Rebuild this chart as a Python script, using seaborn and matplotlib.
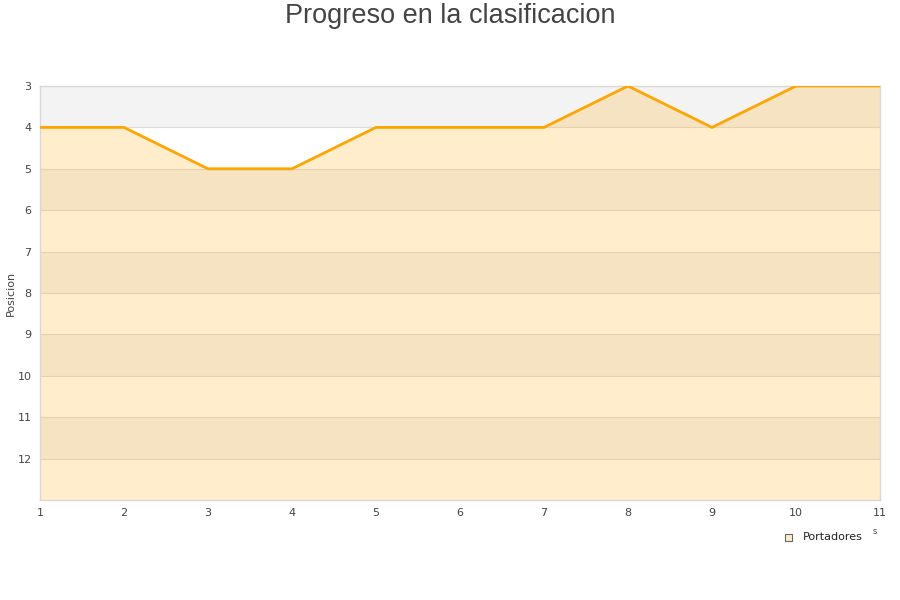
import matplotlib
matplotlib.use("Agg")
import matplotlib.pyplot as plt
import seaborn as sns
import pandas as pd
import numpy as np

jornadas = [1, 2, 3, 4, 5, 6, 7, 8, 9, 10, 11]
posicion = [4, 4, 5, 5, 4, 4, 4, 3, 4, 3, 3]
y_ticks = [3, 4, 5, 6, 7, 8, 9, 10, 11, 12]
serie = "Portadores"

df = pd.DataFrame({"Jornada": jornadas, "Posicion": posicion})

sns.set_theme(style="white")
plt.rcParams['font.family'] = ['DejaVu Sans']

fig = plt.figure(figsize=(9, 6), dpi=100)
ax = fig.add_axes([40/900, 100/600, 840/900, 414/600])

y_min, y_max = 3, 13
# alternating bands
for i, y0 in enumerate(range(y_min, y_max)):
    ax.axhspan(y0, y0 + 1, color="#f3f3f3" if i % 2 == 0 else "#ffffff", zorder=0, lw=0)
for y0 in range(y_min + 1, y_max):
    ax.axhline(y0, color="#dddddd", lw=0.8, zorder=0.5)

ax.fill_between(df["Jornada"], df["Posicion"], y_max, color="#FFA500", alpha=0.2, lw=0, zorder=1)
sns.lineplot(data=df, x="Jornada", y="Posicion", ax=ax, color="#FFA500", lw=2, zorder=3, legend=False)

ax.set_xlim(1, 11)
ax.set_ylim(y_max, y_min)
ax.set_yticks(y_ticks)
ax.set_xticks(jornadas)
ax.tick_params(axis="both", labelsize=8, colors="#444444", length=0, pad=6)
ax.set_xlabel("")
ax.set_ylabel("Posicion", fontsize=8, color="#444444")
ax.yaxis.set_label_coords(-24/840, 0.5)
for s in ax.spines.values():
    s.set_color("#d8d8d8")
    s.set_linewidth(1)

fig.text(0.5, 1 - 16/600, "Progreso en la clasificacion", ha="center", va="center",
         fontsize=19.5, color="#444444", family=["Liberation Sans", "DejaVu Sans"])

# legend
fig.patches.append(plt.Rectangle((785/900, 1 - 541/600), 7/900, 7/600, transform=fig.transFigure,
                                 facecolor="#FFEDCC", edgecolor="#666666", lw=0.8))
fig.text(803/900, 1 - 537/600, serie, ha="left", va="center", fontsize=8, color="#222222")
fig.text(875/900, 1 - 531/600, "s", ha="center", va="center", fontsize=6, color="#444444")

fig.savefig("out.png", dpi=100)
